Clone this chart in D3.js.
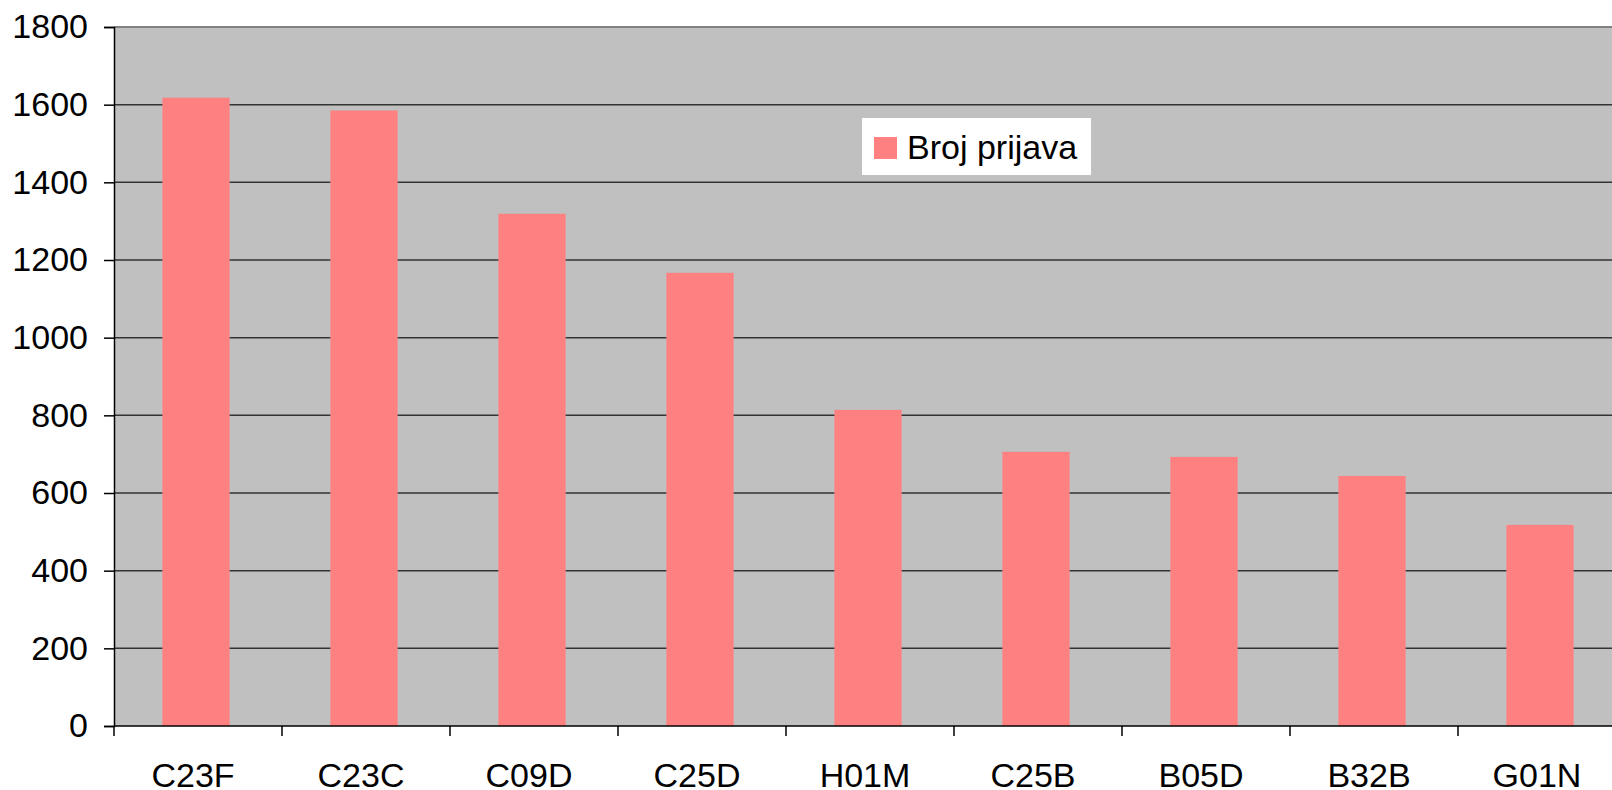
<!DOCTYPE html>
<html>
<head>
<meta charset="utf-8">
<script src="https://cdn.jsdelivr.net/npm/d3@7"></script>
<style>
  html, body { margin: 0; padding: 0; background: #fff; }
  svg { display: block; }
  text { font-family: "Liberation Sans", Arial, sans-serif; fill: #000; }
</style>
</head>
<body>
<svg id="chart" width="1612" height="790"></svg>
<script>
// Patent classes and number of applications
const categories = ["C23F", "C23C", "C09D", "C25D", "H01M", "C25B", "B05D", "B32B", "G01N"];
const prijave = [1618, 1585, 1319, 1167, 814, 706, 693, 644, 518];
const yTicks = [0, 200, 400, 600, 800, 1000, 1200, 1400, 1600, 1800];
const seriesName = "Broj prijava";

const svg = d3.select("#chart");
const plotLeft = 114, plotTop = 27, plotBottom = 726, plotRight = 1626;
const fontSize = 34;

const x = d3.scaleBand().domain(categories).range([plotLeft, plotRight]).paddingInner(0.6).paddingOuter(0.3);
const y = d3.scaleLinear().domain([0, 1800]).range([plotBottom, plotTop]);

// plot background
svg.append("rect")
  .attr("x", plotLeft).attr("y", plotTop)
  .attr("width", plotRight - plotLeft).attr("height", plotBottom - plotTop)
  .attr("fill", "#c0c0c0");

// horizontal gridlines
svg.append("g")
  .selectAll("line")
  .data(yTicks.filter(d => d > 0 && d < 1800))
  .join("line")
  .attr("x1", plotLeft).attr("x2", plotRight)
  .attr("y1", d => y(d)).attr("y2", d => y(d))
  .attr("stroke", "#333").attr("stroke-width", 1.5);

// top border of plot area
svg.append("line")
  .attr("x1", plotLeft).attr("x2", plotRight)
  .attr("y1", plotTop).attr("y2", plotTop)
  .attr("stroke", "#808080").attr("stroke-width", 2);

// bars
svg.append("g")
  .selectAll("rect")
  .data(categories.map((c, i) => ({ c, v: prijave[i] })))
  .join("rect")
  .attr("x", d => x(d.c) - 2)
  .attr("y", d => y(d.v))
  .attr("width", x.bandwidth())
  .attr("height", d => plotBottom - y(d.v))
  .attr("fill", "#ff8080");

// y axis
const yAxis = d3.axisLeft(y).tickValues(yTicks).tickSize(10).tickPadding(16).tickFormat(d3.format("d"));
const gy = svg.append("g").attr("transform", `translate(${plotLeft},0)`).call(yAxis);
gy.select(".domain").attr("stroke", "#000").attr("stroke-width", 1.5);
gy.selectAll(".tick line").attr("stroke", "#000").attr("stroke-width", 1.5);
gy.selectAll(".tick text")
  .attr("font-size", fontSize)
  .attr("font-family", "Liberation Sans, Arial, sans-serif")
  .attr("fill", "#000");

// x axis: ticks at category boundaries
const bounds = d3.range(categories.length + 1).map(i => plotLeft + i * x.step());
const gx = svg.append("g");
gx.append("line")
  .attr("x1", plotLeft).attr("x2", plotRight)
  .attr("y1", plotBottom).attr("y2", plotBottom)
  .attr("stroke", "#000").attr("stroke-width", 1.5);
gx.selectAll("line.tk")
  .data(bounds)
  .join("line")
  .attr("class", "tk")
  .attr("x1", d => d).attr("x2", d => d)
  .attr("y1", plotBottom).attr("y2", plotBottom + 10)
  .attr("stroke", "#000").attr("stroke-width", 1.5);
gx.selectAll("text")
  .data(categories)
  .join("text")
  .attr("x", d => x(d) + x.bandwidth() / 2 - 5)
  .attr("y", 787)
  .attr("text-anchor", "middle")
  .attr("font-size", fontSize)
  .text(d => d);

// legend
const lg = svg.append("g").attr("transform", "translate(862,118)");
lg.append("rect").attr("width", 229).attr("height", 57).attr("fill", "#fff");
lg.append("rect").attr("x", 12).attr("y", 19).attr("width", 23).attr("height", 22).attr("fill", "#ff8080");
lg.append("text").attr("x", 45).attr("y", 41).attr("font-size", fontSize).text(seriesName);
</script>
</body>
</html>
